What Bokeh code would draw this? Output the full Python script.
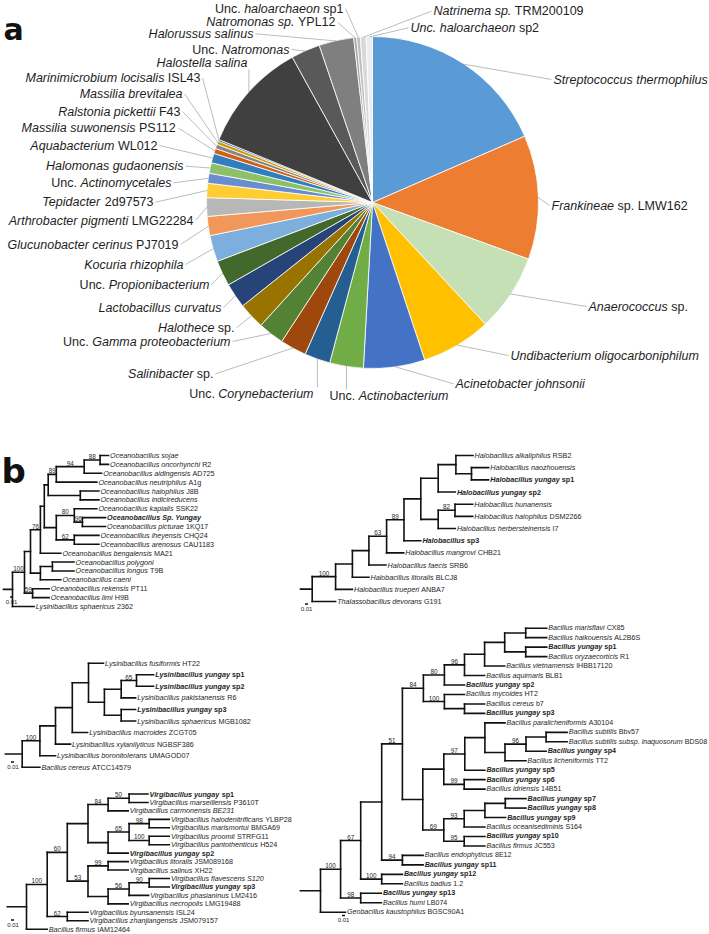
import math
from bokeh.plotting import figure
from bokeh.models import Range1d
from bokeh.layouts import column, row
from bokeh.embed import file_html
from bokeh.resources import INLINE
from bokeh.core.properties import value

FONT = "Liberation Sans"
TXT = "#1e1e1e"

# ================= Panel a : relative abundance (%) =================
# markup: ~ toggles italic, ^ toggles bold
pie_labels = [
    "~Streptococcus thermophilus~", "~Frankineae~ sp. LMW162", "~Anaerococcus~ sp.",
    "~Undibacterium oligocarboniphilum~", "~Acinetobacter johnsonii~", "Unc. ~Actinobacterium~",
    "Unc. ~Corynebacterium~", "~Salinibacter~ sp.", "Unc. ~Gamma proteobacterium~",
    "~Halothece~ sp.", "~Lactobacillus curvatus~", "Unc. ~Propionibacterium~",
    "~Kocuria rhizophila~", "~Glucunobacter cerinus~ PJ7019", "~Arthrobacter pigmenti~ LMG22284",
    "~Tepidacter~ 2d97573", "Unc. ~Actinomycetales~", "~Halomonas gudaonensis~",
    "~Aquabacterium~ WL012", "~Massilia suwonensis~ PS112", "~Ralstonia pickettii~ F43",
    "~Massilia brevitalea~", "~Marinimicrobium locisalis~ ISL43", "~Halostella salina~",
    "Unc. ~Natromonas~", "~Halorussus salinus~", "~Natromonas sp.~ YPL12",
    "Unc. ~haloarchaeon~ sp1", "~Natrinema sp.~ TRM200109", "~Unc. haloarchaeon~ sp2",
]
pie_values = [
    18.47, 12.08, 7.56, 6.81, 5.97, 3.28, 2.50, 2.56, 2.53, 2.56,
    2.44, 2.50, 2.56, 1.86, 1.81, 1.39, 0.97, 1.03, 0.92, 0.50,
    0.42, 0.33, 0.17, 10.78, 2.83, 3.39, 0.28, 0.36, 0.56, 0.61,
]
pie_colors = [
    "#5B9BD5", "#ED7D31", "#C5E0B4", "#FFC000", "#4472C4", "#70AD47", "#255E91", "#9E480E",
    "#548235", "#997300", "#264478", "#43682B", "#7CAFDD", "#F1975A", "#B7B7B7", "#FFCD33",
    "#698ED0", "#8CC168", "#327DC2", "#D26012", "#848484", "#CC9A00", "#335AA1", "#404040",
    "#595959", "#7F7F7F", "#A5A5A5", "#BFBFBF", "#D9D9D9", "#EDEDED",
]
# label layout: page px anchor (x, y), alignment, leader attachment
pie_label_layout = [
    (553, 79, "left", "s"), (551, 205, "left", "s"), (588, 306, "left", "s"),
    (510, 355, "left", "s"), (455, 383.3, "left", "s"), (329, 395.7, "left", "t"),
    (313, 393.3, "right", "t"), (213, 373.3, "right", "s"), (230, 341, "right", "s"),
    (234, 327.3, "right", "s"), (221, 307.3, "right", "s"), (209, 284, "right", "s"),
    (183, 264, "right", "s"), (178, 244, "right", "s"), (193, 220, "right", "s"),
    (153, 201.7, "right", "s"), (171, 182.3, "right", "s"), (183, 165.7, "right", "s"),
    (157, 145, "right", "s"), (176, 127.7, "right", "s"), (180, 111, "right", "s"),
    (182, 93.3, "right", "s"), (200, 77.3, "right", "s"), (247, 62.3, "right", "b"),
    (289, 49, "right", "s"), (253, 33.3, "right", "s"), (335, 21.7, "right", "s"),
    (343, 8.2, "right", "s"), (433, 10.7, "left", "s"), (410, 27.3, "left", "s"),
]

# ================= Panel b : phylogenies (Newick, subst./site) =================
newick_oceano = (
    "(((((((((~Oceanobacillus sojae~:0.028,~Oceanobacillus oncorhynchi~ R2:0.028)88:0.053,"
    "~Oceanobacillus aidingensis~ AD725:0.058)94:0.093,~Oceanobacillus neutriphilus~ A1g:0.135)89:0.027,"
    "(~Oceanobacillus halophilus~ J8B:0.062,~Oceanobacillus indicireducens~:0.062):0.107):0.013,"
    "((~Oceanobacillus kapialis~ SSK22:0.075,(^~Oceanobacillus Sp. Yungay~^:0.077,"
    "~Oceanobacillus picturae~ 1KQ17:0.077)96:0.027)80:0.060,(~Oceanobacillus iheyensis~ CHQ24:0.082,"
    "~Oceanobacillus arenosus~ CAU1183:0.082)62:0.060):0.040):0.013,~Oceanobacillus bengalensis~ MA21:0.068)76:0.033,"
    "((~Oceanobacillus polygoni~:0.072,~Oceanobacillus longus~ T9B:0.072):0.040,~Oceanobacillus caeni~:0.068):0.033):0.020,"
    "(~Oceanobacillus rekensis~ PT11:0.055,~Oceanobacillus limi~ H9B:0.055)59:0.027)100:0.040,"
    "~Lysinibacillus sphaericus~ 2362:0.072);"
)
newick_halo = (
    "(((((((((~Halobacillus alkaliphilus~ RSB2:0.057,(~Halobacillus naozhouensis~:0.057,"
    "^~Halobacillus yungay~ sp1^:0.057):0.052):0.059,^~Halobacillus yungay~ sp2^:0.057):0.058,"
    "((~Halobacillus hunanensis~:0.059,~Halobacillus halophilus~ DSM2266:0.059)82:0.056,"
    "~Halobacillus herbersteinensis~ I7:0.057):0.058):0.056,^~Halobacillus~ sp3^:0.056)89:0.058,"
    "~Halobacillus mangrovi~ CHB21:0.057)63:0.059,~Halobacillus faecis~ SRB6:0.057):0.055,"
    "~Halobacillus litoralis~ BLCJ8:0.055):0.056,~Halobacillus trueperi~ ANBA7:0.056)100:0.078,"
    "~Thalassobacillus devorans~ G191:0.078);"
)
newick_lysini = (
    "(((((~Lysinibacillus fusiformis~ HT22:0.050,(((^~Lysinibacillus yungay~ sp1^:0.057,"
    "^~Lysinibacillus yungay~ sp2^:0.057)65:0.051,~Lysinibacillus pakistanensis~ R6:0.048):0.056,"
    "(^~Lysinibacillus yungay~ sp3^:0.048,~Lysinibacillus sphaericus~ MGB1082:0.048):0.056):0.053):0.054,"
    "~Lysinibacillus macroides~ ZCGT05:0.051):0.056,~Lysinibacillus xylanilyticus~ NGBSF386:0.050):0.052,"
    "~Lysinibacillus boronitolerans~ UMAGOD07:0.052)100:0.059,~Bacillus cereus~ ATCC14579:0.059);"
)
newick_virgi = (
    "((((((^~Virgibacillus yungay~ sp1^:0.063,~Virgibacillus marseillensis~ P3610T:0.063)50:0.070,"
    "~Virgibacillus carmonensis BE231~:0.067)84:0.067,(((~Virgibacillus halodenitrificans~ YLBP28:0.067,"
    "~Virgibacillus marismortui~ BMGA69:0.067)98:0.067,(~Virgibacillus proomii~ STRFG11:0.067,"
    "~Virgibacillus pantothenticus~ H524:0.067)100:0.067)65:0.070,^~Virgibacillus yungay~ sp2^:0.067):0.067):0.069,"
    "((~Virgibacillus litoralis~ JSM089168:0.067,~Virgibacillus salinus~ XH22:0.067)99:0.067,"
    "(((~Virgibacillus flavescens S120~:0.067,^~Virgibacillus yungay~ sp3^:0.067)90:0.067,"
    "~Virgibacillus phasianinus~ LM2416:0.065)56:0.070,~Virgibacillus necropolis~ LMG19488:0.067):0.067)53:0.069)60:0.067,"
    "(~Virgibacillus byunsanensis~ ISL24:0.069,~Virgibacillus zhanjiangensis~ JSM079157:0.069)62:0.067)100:0.069,"
    "~Bacillus firmus~ IAM12464:0.069);"
)
newick_bacillus = (
    "(((((((((((~Bacillus marisflavi~ CX85:0.070,~Bacillus haikouensis~ AL2B6S:0.070):0.070,"
    "(^~Bacillus yungay~ sp1^:0.070,~Bacillus oryzaecorticis~ R1:0.070):0.070):0.067,"
    "~Bacillus vietnamensis~ IHBB17120:0.067):0.067,~Bacillus aquimaris~ BLB1:0.067)96:0.067,"
    "^~Bacillus yungay~ sp2^:0.067)80:0.070,(~Bacillus mycoides~ HT2:0.067,(~Bacillus cereus~ b7:0.067,"
    "^~Bacillus yungay~ sp3^:0.067):0.067)100:0.070)84:0.070,"
    "((((~Bacillus paralicheniformis~ A30104:0.067,(((~Bacillus subtilis~ Bbv57:0.070,"
    "~Bacillus subtilis subsp. inaquosorum~ BDS08:0.070):0.067,^~Bacillus yungay~ sp4^:0.067)96:0.070,"
    "~Bacillus licheniformis~ TT2:0.070):0.067):0.067,^~Bacillus yungay~ sp5^:0.067)97:0.070,"
    "(^~Bacillus yungay~ sp6^:0.069,~Bacillus idriensis~ 14B51:0.069)99:0.068):0.070,"
    "((((^~Bacillus yungay~ sp7^:0.069,^~Bacillus yungay~ sp8^:0.069):0.068,^~Bacillus yungay~ sp9^:0.069):0.069,"
    "~Bacillus oceanisediminis~ S164:0.069)93:0.068,(^~Bacillus yungay~ sp10^:0.069,"
    "~Bacillus firmus~ JC553:0.069)95:0.068)69:0.070):0.068)51:0.069,"
    "(~Bacillus endophyticus~ 8E12:0.069,^~Bacillus yungay~ sp11^:0.069)94:0.069):0.070,"
    "(^~Bacillus yungay~ sp12^:0.069,~Bacillus badius~ 1.2:0.069)100:0.070)67:0.067,"
    "(^~Bacillus yungay~ sp13^:0.069,~Bacillus humi~ LB074:0.069)98:0.067)100:0.067,"
    "~Geobacillus kaustophilus~ BGSC90A1:0.083);"
)
scale_bar_length = 0.01

# ================= helpers =================
REG = {' ': 278, '.': 278, ',': 278, '-': 333}
BOLD = {' ': 278, '.': 278, ',': 278, '-': 333}
for d in "0123456789":
    REG[d] = 556
    BOLD[d] = 556
REG.update(dict(zip("ABCDEFGHIJKLMNOPQRSTUVWXYZ",
    [667, 667, 722, 722, 667, 611, 778, 722, 278, 500, 667, 556, 833, 722, 778, 667, 778, 722, 667, 611, 722, 667, 944, 667, 667, 611])))
REG.update(dict(zip("abcdefghijklmnopqrstuvwxyz",
    [556, 556, 500, 556, 556, 278, 556, 556, 222, 222, 500, 222, 833, 556, 556, 556, 556, 333, 500, 278, 556, 500, 722, 500, 500, 500])))
BOLD.update(dict(zip("ABCDEFGHIJKLMNOPQRSTUVWXYZ",
    [722, 722, 722, 722, 667, 611, 778, 722, 278, 556, 722, 611, 833, 722, 778, 667, 778, 722, 667, 611, 722, 667, 944, 667, 667, 611])))
BOLD.update(dict(zip("abcdefghijklmnopqrstuvwxyz",
    [556, 611, 556, 611, 556, 333, 611, 611, 278, 278, 556, 278, 889, 611, 611, 611, 611, 389, 556, 333, 611, 556, 778, 556, 556, 500])))


def parse_markup(s):
    segs, cur, it, bd = [], "", False, False
    for ch in s:
        if ch in "~^":
            if cur:
                segs.append((cur, it, bd))
            cur = ""
            if ch == "~":
                it = not it
            else:
                bd = not bd
        else:
            cur += ch
    if cur:
        segs.append((cur, it, bd))
    return segs


def seg_layout(s, size):
    out, pos = [], 0.0
    for t, it, bd in parse_markup(s):
        tab = BOLD if bd else REG
        lead = len(t) - len(t.lstrip(" "))
        txt = t.strip(" ")
        if txt:
            out.append((txt, pos + lead * tab[" "] * size / 1000.0, it, bd))
        pos += sum(tab.get(c, 556) for c in t) * size / 1000.0
    return out, pos


def add_rich(p, entries, size, color):
    groups = {}
    for x, y, markup, align, dx in entries:
        segs, total = seg_layout(markup, size)
        base = dx if align == "left" else dx - total
        for txt, off, it, bd in segs:
            style = ("bold " if bd else "") + ("italic" if it else "")
            style = style.strip() or "normal"
            g = groups.setdefault(style, {"x": [], "y": [], "t": [], "o": []})
            g["x"].append(x)
            g["y"].append(y)
            g["t"].append(txt)
            g["o"].append(base + off)
    for style, g in groups.items():
        p.text(x=g["x"], y=g["y"], text=g["t"], x_offset=g["o"], text_font=value(FONT),
               text_font_size=f"{size}px", text_font_style=style, text_color=color,
               text_align="left", text_baseline="middle")


def new_fig(w, h, xr, yr):
    return figure(width=w, height=h, x_range=xr, y_range=yr, output_backend="svg",
                  toolbar_location=None, x_axis_type=None, y_axis_type=None, min_border=0,
                  outline_line_color=None, background_fill_color="white", border_fill_color="white")


def parse_newick(s):
    pos = 0

    def node():
        nonlocal pos
        n = {"children": [], "name": None, "label": None, "length": 0.0}
        if s[pos] == "(":
            pos += 1
            while True:
                n["children"].append(node())
                if s[pos] == ",":
                    pos += 1
                    continue
                pos += 1
                break
            st = pos
            while s[pos] not in ":,);":
                pos += 1
            n["label"] = s[st:pos].strip() or None
        else:
            st = pos
            while s[pos] not in ":,);":
                pos += 1
            n["name"] = s[st:pos].strip()
        if s[pos] == ":":
            pos += 1
            st = pos
            while s[pos] not in ",);":
                pos += 1
            n["length"] = float(s[st:pos])
        return n

    return node()


def layout_tree(n, x, leaves):
    n["x"] = x
    if not n["children"]:
        n["y"] = float(len(leaves))
        leaves.append(n)
    else:
        for c in n["children"]:
            layout_tree(c, x + c["length"], leaves)
        n["y"] = (n["children"][0]["y"] + n["children"][-1]["y"]) / 2.0


def collect(n, segs, sup):
    if n["children"]:
        segs.append((n["x"], n["children"][0]["y"], n["x"], n["children"][-1]["y"]))
        for c in n["children"]:
            segs.append((n["x"], c["y"], c["x"], c["y"]))
            if c["children"] and c["label"]:
                sup.append(((n["x"] + c["x"]) / 2.0, c["y"], c["label"]))
            collect(c, segs, sup)


def tree_fig(newick, left, top, w, h, root_px, ppu, y0, dy, stub, size, bar_px, txt_px, big=None):
    root = parse_newick(newick)
    leaves = []
    layout_tree(root, 0.0, leaves)
    xr = Range1d((left - root_px) / ppu, (left + w - root_px) / ppu)
    yr = Range1d((top + h - y0) / dy, (top - y0) / dy)
    p = new_fig(w, h, xr, yr)
    segs, sup = [], []
    collect(root, segs, sup)
    segs.append((-stub, root["y"], 0.0, root["y"]))
    p.segment(x0=[s[0] for s in segs], y0=[s[1] for s in segs], x1=[s[2] for s in segs],
              y1=[s[3] for s in segs], line_color="#111111", line_width=1.6, line_cap="square")
    add_rich(p, [(lf["x"], lf["y"], lf["name"], "left", 1.6) for lf in leaves], size, TXT)
    p.text(x=[s[0] for s in sup], y=[s[1] for s in sup], text=[s[2] for s in sup], y_offset=-1.0,
           text_font=value(FONT), text_font_size="6.3px", text_color=TXT,
           text_align="center", text_baseline="bottom")
    bx, by = (bar_px[0] - root_px) / ppu, (bar_px[1] - y0) / dy
    p.segment(x0=[bx], y0=[by], x1=[bx + scale_bar_length], y1=[by], line_color="#111111", line_width=1.6)
    p.text(x=[(txt_px[0] - root_px) / ppu], y=[(txt_px[1] - y0) / dy], text=["0.01"],
           text_font=value(FONT), text_font_size="6px", text_color=TXT,
           text_align="center", text_baseline="middle")
    if big:
        p.text(x=[(big[0] - root_px) / ppu], y=[(big[1] - y0) / dy], text=[big[2]],
               text_font=value("DejaVu Sans"), text_font_size="34px", text_font_style="bold",
               text_color="#111111", text_align="left", text_baseline="alphabetic")
    return p


# ================= Panel a figure (page-pixel frame) =================
PIE_H = 430
pie = new_fig(709, PIE_H, Range1d(0, 709), Range1d(-PIE_H, 0))
cx, cy, R = 372.0, -202.0, 166.0
tot = float(sum(pie_values))
starts, ends, cum = [], [], 0.0
for v in pie_values:
    starts.append(math.pi / 2 - 2 * math.pi * (cum + v) / tot)
    ends.append(math.pi / 2 - 2 * math.pi * cum / tot)
    cum += v
pie.wedge(x=cx, y=cy, radius=R, start_angle=starts, end_angle=ends,
          fill_color=pie_colors, line_color="white", line_width=0.8)

lx0, ly0, lx1, ly1 = [], [], [], []
entries = []
for i, (lx, ly, align, att) in enumerate(pie_label_layout):
    mid = (starts[i] + ends[i]) / 2
    px, py = cx + (R - 0.5) * math.cos(mid), cy + (R - 0.5) * math.sin(mid)
    if att == "s":
        sx = lx + 2 if align == "right" else lx - 2
        sy = -ly
    elif att == "t":
        sx, sy = px, -(ly - 6.5)
    else:
        sx, sy = px, -(ly + 6.5)
    lx0.append(sx); ly0.append(sy); lx1.append(px); ly1.append(py)
    entries.append((lx, -ly, pie_labels[i], align, 0.0))
pie.segment(x0=lx0, y0=ly0, x1=lx1, y1=ly1, line_color="#a6a6a6", line_width=0.75)
add_rich(pie, entries, 12.5, TXT)
pie.text(x=[3], y=[-28.6], text=["a"], text_font=value("DejaVu Sans"), text_font_size="30px",
         text_font_style="bold", text_color="#111111", text_baseline="alphabetic")

# ================= Panel b figures =================
t1 = tree_fig(newick_oceano, 0, PIE_H, 297, 614 - PIE_H, 12.0, 300.0, 455.0, 8.88, 0.030, 7.2,
              (9.5, 596.5), (11.0, 601.0), big=(1, 470.0, "b"))
t3 = tree_fig(newick_lysini, 0, 614, 297, 158, 21.7, 300.0, 662.7, 11.56, 0.056, 7.2,
              (10.5, 761.5), (12.5, 766.0))
t4 = tree_fig(newick_virgi, 0, 772, 297, 162, 26.0, 300.0, 793.5, 8.45, 0.064, 7.2,
              (10.5, 919.5), (12.5, 924.0))
t2 = tree_fig(newick_halo, 297, PIE_H, 412, 617 - PIE_H, 311.7, 300.0, 455.0, 12.17, 0.039, 7.2,
              (304.5, 603.5), (306.0, 608.5))
t5 = tree_fig(newick_bacillus, 297, 617, 412, 317, 320.0, 300.0, 627.7, 9.467, 0.067, 7.1,
              (341.5, 915.0), (343.0, 919.5))

layout = column(pie, row(column(t1, t3, t4), column(t2, t5)))
open("out.html", "w").write(file_html(layout, INLINE))
